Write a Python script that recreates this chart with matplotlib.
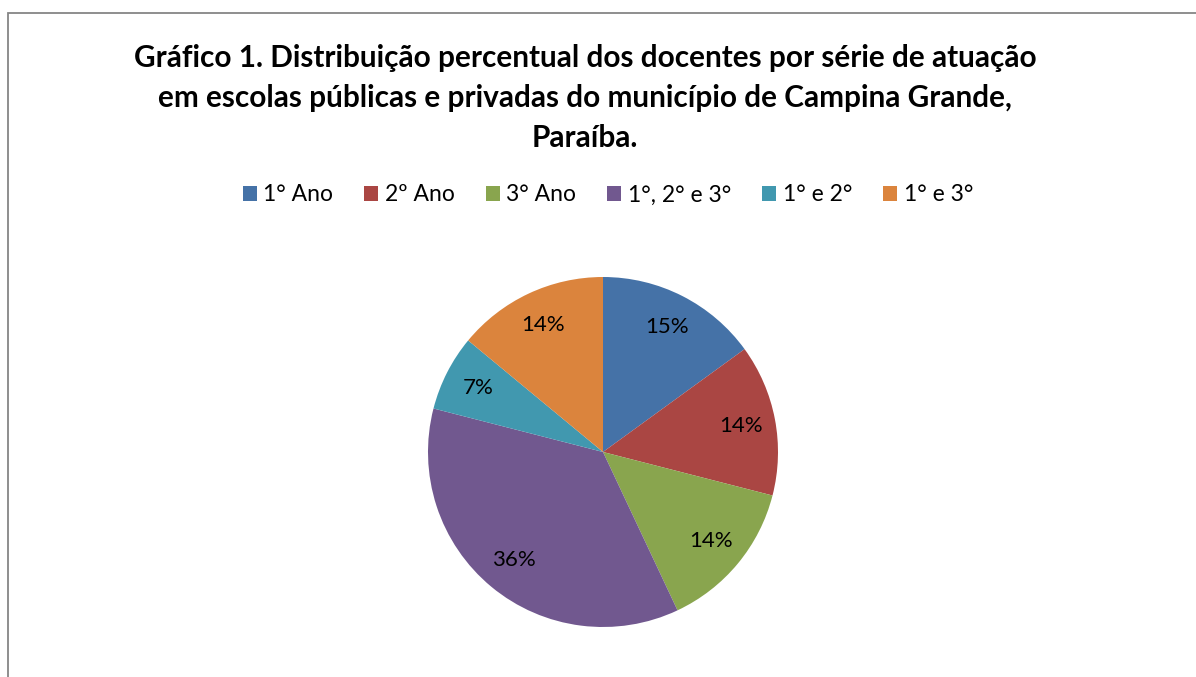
import matplotlib
matplotlib.use('Agg')
from matplotlib import pyplot as plt
from matplotlib.patches import Rectangle

# chart data
categories = ['1° Ano', '2º Ano', '3° Ano', '1°, 2° e 3°', '1° e 2°', '1° e 3°']
values = [15, 14, 14, 36, 7, 14]
colors = ['#4572A7', '#AA4643', '#89A54E', '#71588F', '#4198AF', '#DB843D']
title = ('Gráfico 1. Distribuição percentual dos docentes por série de atuação\n'
         'em escolas públicas e privadas do município de Campina Grande,\n'
         'Paraíba.')

plt.rcParams['font.family'] = ['Lato', 'DejaVu Sans']

W, H = 1196, 677
fig = plt.figure(figsize=(W / 100, H / 100), dpi=100)

# chart area frame (cut off at right and bottom)
fig.patches.append(Rectangle((7.5 / W, -0.05), 1.2, (H - 12.5) / H + 0.05,
                             transform=fig.transFigure, fill=False,
                             edgecolor='#868686', linewidth=1.3))

fig.text(585 / W, 1 - 44 / H, title, ha='center', va='top', fontsize=21.4,
         fontweight='bold', linespacing=1.52, multialignment='center')

# pie
cx, cy, r = 603, 452, 175
ax = fig.add_axes([(cx - r) / W, (H - cy - r) / H, 2 * r / W, 2 * r / H])
wedges, texts, autotexts = ax.pie(values, colors=colors, startangle=90,
                                  counterclock=False, radius=1,
                                  autopct='%1.0f%%', pctdistance=0.8,
                                  textprops={'fontsize': 16, 'color': 'black'},
                                  wedgeprops={'linewidth': 0})
ax.set_xlim(-1, 1)
ax.set_ylim(-1, 1)
ax.set_aspect('equal')
ax.axis('off')

# legend
handles = [Rectangle((0, 0), 1, 1, facecolor=c) for c in colors]
fig.legend(handles, categories, loc='center', bbox_to_anchor=(608 / W, 1 - 195 / H),
           ncol=6, frameon=False, fontsize=16.5, handlelength=0.6, handleheight=0.6,
           handletextpad=0.3, columnspacing=1.35)

fig.savefig('out.png', dpi=100)
